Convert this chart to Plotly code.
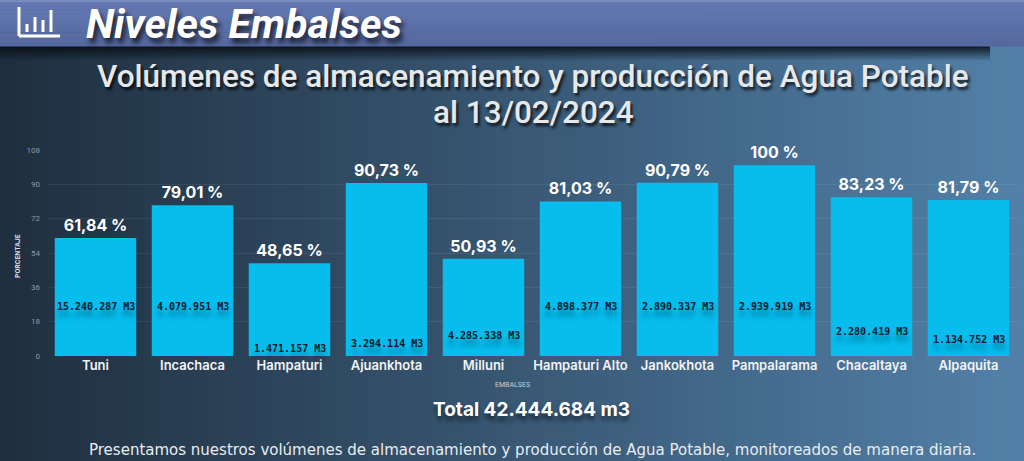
import numpy as np
import plotly.graph_objects as go

# data
embalses = ["Tuni", "Incachaca", "Hampaturi", "Ajuankhota", "Milluni",
            "Hampaturi Alto", "Jankokhota", "Pampalarama", "Chacaltaya", "Alpaquita"]
porcentaje = [61.84, 79.01, 48.65, 90.73, 50.93, 81.03, 90.79, 100, 83.23, 81.79]
volumen_m3 = ["15.240.287", "4.079.951", "1.471.157", "3.294.114", "4.285.338",
              "4.898.377", "2.890.337", "2.939.919", "2.280.419", "1.134.752"]
total_m3 = "42.444.684"
fecha = "13/02/2024"
y_ticks = [0, 18, 36, 54, 72, 90, 108]

# where the volume text sits inside each bar (axis units)
vol_label_y = [26.2, 26.2, 3.7, 6.8, 11.0, 26.2, 26.2, 26.2, 13.1, 8.4]

W, H = 1024, 461
L, R, T, B = 47, 7, 150, 105
PW, PH = W - L - R, H - T - B


def px_x(p):
    return (p - L) / PW


def px_y(p):
    return (H - B - p) / PH


def hex_mix(c1, c2, t):
    a = np.array([int(c1[i:i + 2], 16) for i in (1, 3, 5)])
    b = np.array([int(c2[i:i + 2], 16) for i in (1, 3, 5)])
    c = (a + (b - a) * t).round().astype(int)
    return "rgb(%d,%d,%d)" % tuple(c)


shapes = []
# horizontal background gradient
n_strips = 64
for i in range(n_strips):
    x0 = W * i / n_strips
    x1 = W * (i + 1) / n_strips + 1
    shapes.append(dict(type="rect", xref="paper", yref="paper", layer="below",
                       x0=px_x(x0), x1=px_x(x1), y0=px_y(H), y1=px_y(0),
                       line_width=0, fillcolor=hex_mix("#1f2f3f", "#5280a8", i / (n_strips - 1))))
# shadow under the header band
for k in range(7):
    shapes.append(dict(type="rect", xref="paper", yref="paper", layer="below",
                       x0=px_x(0), x1=px_x(990), y0=px_y(46 + 2 * (k + 1)), y1=px_y(46 + 2 * k),
                       line_width=0, fillcolor="rgba(8,14,20,%.2f)" % (0.85 - 0.12 * k)))
# header band
n_band = 10
for i in range(n_band):
    y0 = 46 * i / n_band
    y1 = 46 * (i + 1) / n_band + 0.6
    shapes.append(dict(type="rect", xref="paper", yref="paper", layer="below",
                       x0=px_x(0), x1=px_x(W), y0=px_y(y1), y1=px_y(y0),
                       line_width=0, fillcolor=hex_mix("#6479b3", "#55699f", i / (n_band - 1))))
shapes.append(dict(type="line", xref="paper", yref="paper", layer="below",
                   x0=px_x(0), x1=px_x(W), y0=px_y(1), y1=px_y(1),
                   line=dict(color="#8193c4", width=1.5)))
# chart icon in the header
icon = [((19, 7), (19, 36)), ((19, 36), (60, 36)),
        ((27, 24), (27, 32)), ((35, 17), (35, 32)),
        ((43, 20), (43, 32)), ((51, 10), (51, 32))]
for (xa, ya), (xb, yb) in icon:
    shapes.append(dict(type="line", xref="paper", yref="paper",
                       x0=px_x(xa), x1=px_x(xb), y0=px_y(ya), y1=px_y(yb),
                       line=dict(color="white", width=3)))

fig = go.Figure()
fig.add_trace(go.Bar(
    x=embalses,
    y=porcentaje,
    marker=dict(color="#06bdee", line_width=0),
    text=[("%g" % v).replace(".", ",") + " %" for v in porcentaje],
    textposition="outside",
    cliponaxis=False,
    textfont=dict(family="Inter", size=16, color="white", weight=700),
    hoverinfo="skip",
))

annotations = []
for name, vol, yv in zip(embalses, volumen_m3, vol_label_y):
    annotations.append(dict(
        x=name, y=yv, xref="x", yref="y", showarrow=False,
        text=vol + " M3", yanchor="middle",
        font=dict(family="DejaVu Sans Mono", size=10, color="#0b1a2a", weight=700,
                  shadow="0px 7px 5px rgba(0,0,0,0.35)"),
    ))

text_shadow = "2px 3px 3px rgba(0,0,0,0.75)"
annotations += [
    dict(text="Niveles Embalses", x=px_x(84), y=px_y(24), xanchor="left",
         font=dict(family="Roboto", size=41, color="white", weight=700, style="italic",
                   shadow="3px 5px 5px rgba(0,0,0,0.7)")),
    dict(text="Volúmenes de almacenamiento y producción de Agua Potable",
         x=px_x(533), y=px_y(77),
         font=dict(family="Roboto", size=31.5, color="#e6e8ea", weight=500, shadow=text_shadow)),
    dict(text="al " + fecha,
         x=px_x(533), y=px_y(112),
         font=dict(family="Roboto", size=31.5, color="#e6e8ea", weight=500, shadow=text_shadow)),
    dict(text="PORCENTAJE", x=px_x(18), y=px_y(256), textangle=-90,
         font=dict(family="Roboto", size=7, color="#d8dde2", weight=700)),
    dict(text="EMBALSES", x=px_x(512), y=px_y(385),
         font=dict(family="Roboto", size=7, color="#c8d0d8")),
    dict(text="Total " + total_m3 + " m3", x=px_x(531), y=px_y(409),
         font=dict(family="Inter", size=19, color="white", weight=700,
                   shadow="0px 5px 4px rgba(0,0,0,0.5)")),
    dict(text="Presentamos nuestros volúmenes de almacenamiento y producción de Agua Potable, "
              "monitoreados de manera diaria.",
         x=px_x(532), y=px_y(450),
         font=dict(family="DejaVu Sans", size=15, color="#e8ecf0")),
]
for a in annotations[len(embalses):]:
    a.setdefault("xanchor", "center")
    a.update(xref="paper", yref="paper", showarrow=False, yanchor="middle")

fig.update_layout(
    width=W, height=H,
    margin=dict(l=L, r=R, t=T, b=B, pad=0),
    paper_bgcolor="#2a3e52",
    plot_bgcolor="rgba(0,0,0,0)",
    bargap=0.16,
    showlegend=False,
    shapes=shapes,
    annotations=annotations,
    xaxis=dict(tickfont=dict(family="Inter", size=13, color="#f2f4f6", weight=600),
               showgrid=False, zeroline=False, showline=False, ticks="",
               fixedrange=True),
    yaxis=dict(range=[0, 108], tickvals=y_ticks,
               tickfont=dict(family="Roboto", size=8, color="#8e9aa6"),
               showgrid=True, gridcolor="rgba(255,255,255,0.07)", gridwidth=1,
               zeroline=False, showline=False, ticklabelstandoff=6,
               fixedrange=True),
)

# the page body has a default margin; drop it so the figure fills the window
fig.write_html("out.html", config={"displayModeBar": False},
               post_script="document.body.style.margin='0';document.body.style.overflow='hidden';")
